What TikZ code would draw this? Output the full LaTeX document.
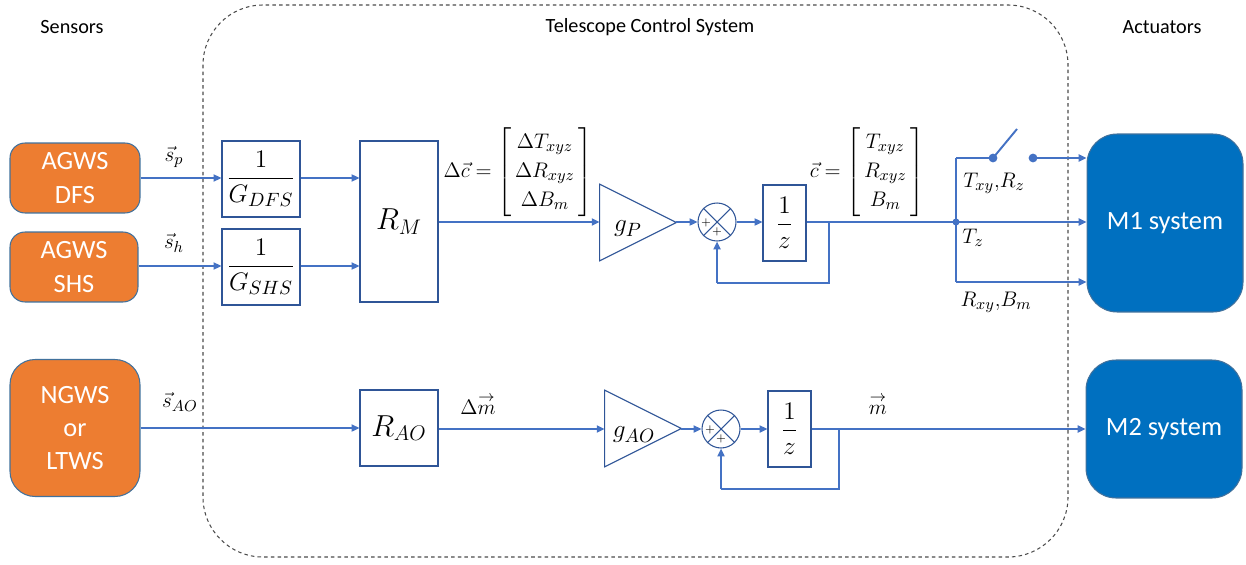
\documentclass[tikz,border=0pt]{standalone}
\usepackage{fontspec}
\setmainfont{Carlito}
\usepackage{amsmath}
\usetikzlibrary{arrows.meta}
\definecolor{orng}{HTML}{ED7D31}
\definecolor{slate}{HTML}{41719C}
\definecolor{mblue}{HTML}{0070C0}
\definecolor{lblue}{HTML}{4472C4}
\definecolor{bbord}{HTML}{2F5597}
\newcommand{\vecm}{\overset{\scriptstyle\rightarrow}{m}}
\begin{document}
\begin{tikzpicture}[x=0.02cm,y=-0.02cm,
  sensor/.style={draw=slate, line width=0.6pt, fill=orng, text=white, rounded corners=0.3cm,
    font=\fontsize{15}{19}\selectfont, align=center, inner sep=0pt},
  actuator/.style={draw=slate, line width=0.6pt, fill=mblue, text=white, rounded corners=0.6cm,
    font=\fontsize{15}{19}\selectfont, align=center, inner sep=0pt},
  blockbox/.style={draw=bbord, line width=0.6pt, fill=white, inner sep=0pt,
    font=\fontsize{15}{18}\selectfont},
  gainarea/.style={inner sep=0pt, minimum width=1.52cm, minimum height=1.52cm},
  sumnode/.style={draw=bbord, line width=0.6pt, circle, minimum size=0.76cm, inner sep=0pt},
  sig/.style={draw=lblue, line width=1.1pt, -{Triangle[length=4.5pt,width=4pt]}},
  wire/.style={draw=lblue, line width=1.1pt},
  head/.style={font=\fontsize{11.5}{14}\selectfont},
  lbl/.style={font=\fontsize{13}{16}\selectfont, inner sep=0pt},
  glbl/.style={font=\fontsize{15}{18}\selectfont, inner sep=0pt},
  matlbl/.style={font=\fontsize{12.5}{16.5}\selectfont, inner sep=0pt},
  plus/.style={font=\fontsize{6}{7}\selectfont, inner sep=0pt},
  dot/.style={circle, fill=lblue, minimum size=5pt, inner sep=0pt}
]
\useasboundingbox (0,0) rectangle (1246,564);

% headers
\node[head] (hs) at (72,27) {Sensors};
\node[head] (ht) at (650,27) {Telescope Control System};
\node[head] (ha) at (1162,27) {Actuators};

% dashed system boundary
\draw[dashed, dash pattern=on 2pt off 1.8pt, draw=black!70, line width=0.6pt, rounded corners=1.2cm]
  (203,5) rectangle (1068,557);

% sensors
\node[sensor, minimum width=2.6cm, minimum height=1.4cm] (dfs) at (75,178) {AGWS\\DFS};
\node[sensor, minimum width=2.56cm, minimum height=1.4cm] (shs) at (74,267) {AGWS\\SHS};
\node[sensor, rounded corners=0.5cm, minimum width=2.6cm, minimum height=2.74cm] (ngws) at (75,428) {NGWS\\or\\LTWS};

% actuators
\node[actuator, minimum width=3.12cm, minimum height=3.56cm] (m1) at (1165,223) {M1 system};
\node[actuator, minimum width=3.12cm, minimum height=2.76cm] (m2) at (1164,429) {M2 system};

% top chain
\node[blockbox, minimum width=1.56cm, minimum height=1.52cm] (gdfs) at (261,179) {$\displaystyle\frac{1}{G_{DFS}}$};
\node[blockbox, minimum width=1.56cm, minimum height=1.52cm] (gshs) at (261,267) {$\displaystyle\frac{1}{G_{SHS}}$};
\node[blockbox, font=\fontsize{18}{21}\selectfont, minimum width=1.56cm, minimum height=3.22cm] (rm) at (399,221.5) {$R_M$};

\node[gainarea] (gp) at (638,222.5) {};
\draw[draw=bbord, line width=0.6pt] (gp.north west) -- (gp.east) -- (gp.south west) -- cycle;
\node[glbl] (gpl) at (628,229) {$g_P$};

\node[sumnode] (s1) at (717,222) {};
\draw[draw=bbord, line width=0.6pt] (s1.north west) -- (s1.south east) (s1.north east) -- (s1.south west);
\node[plus] (s1a) at (706,223) {$+$};
\node[plus] (s1b) at (717,232) {$+$};

\node[blockbox, minimum width=0.86cm, minimum height=1.52cm] (z1) at (784.5,223) {$\displaystyle\frac{1}{z}$};

\coordinate (j1) at (829,222);
\coordinate (j1b) at (829,283);
\coordinate (s1b0) at (717,283);
\node[dot, minimum size=4pt] (jr) at (956,222) {};
\coordinate (jt) at (956,158);
\coordinate (jb) at (956,282);
\node[dot] (sw1) at (993,158) {};
\coordinate (swend) at (1017,129);
\node[dot] (sw2) at (1033,158) {};

\draw[sig] (dfs.east |- 0,178) -- (gdfs.west |- 0,178);
\draw[sig] (shs.east |- 0,266) -- (gshs.west |- 0,266);
\draw[sig] (gdfs.east |- 0,178) -- (rm.west |- 0,178);
\draw[sig] (gshs.east |- 0,266) -- (rm.west |- 0,266);
\draw[sig] (rm.east |- 0,222) -- (gp.west |- 0,222);
\draw[sig] (gp.east |- 0,222) -- (s1.west);
\draw[sig] (s1.east) -- (z1.west |- 0,222);
\draw[wire] (z1.east |- 0,222) -- (jr.center);
\draw[wire] (j1) -- (j1b) -- (s1b0);
\draw[sig] (s1b0) -- (s1.south);
\draw[wire] (jt) -- (jb);
\draw[wire] (jt) -- (sw1.center) -- (swend);
\draw[sig] (sw2.center) -- (m1.west |- 0,158);
\draw[sig] (jr.center) -- (m1.west |- 0,222);
\draw[sig] (jb) -- (m1.west |- 0,282);

% top labels
\node[lbl] (lsp) at (174,157) {$\vec{s}_p$};
\node[lbl] (lsh) at (174,243) {$\vec{s}_h$};
\node[matlbl] (ldc) at (518,172)
  {$\Delta\vec{c} = \begin{bmatrix}\,\Delta T_{xyz}\,\\ \,\Delta R_{xyz}\,\\ \,\Delta B_m\,\end{bmatrix}$};
\node[matlbl] (lc) at (867,172)
  {$\vec{c} = \begin{bmatrix}\,T_{xyz}\,\\ \,R_{xyz}\,\\ \,B_m\,\end{bmatrix}$};
\node[lbl] (ltr) at (994,183) {$T_{xy}{,}R_z$};
\node[lbl] (ltz) at (973,238) {$T_z$};
\node[lbl] (lrb) at (996,302) {$R_{xy}{,}B_m$};

% bottom chain
\node[blockbox, font=\fontsize{18}{21}\selectfont, minimum width=1.56cm, minimum height=1.52cm] (rao) at (399,428) {$R_{AO}$};
\node[gainarea] (gao) at (643,428.5) {};
\draw[draw=bbord, line width=0.6pt] (gao.north west) -- (gao.east) -- (gao.south west) -- cycle;
\node[glbl] (gaol) at (634,435) {$g_{AO}$};

\node[sumnode] (s2) at (721,429) {};
\draw[draw=bbord, line width=0.6pt] (s2.north west) -- (s2.south east) (s2.north east) -- (s2.south west);
\node[plus] (s2a) at (710,430) {$+$};
\node[plus] (s2b) at (721,439) {$+$};

\node[blockbox, minimum width=0.86cm, minimum height=1.52cm] (z2) at (789.5,429) {$\displaystyle\frac{1}{z}$};
\coordinate (j2) at (839,429);
\coordinate (j2b) at (839,489);
\coordinate (s2b0) at (721,489);

\draw[sig] (ngws.east |- 0,428) -- (rao.west |- 0,428);
\draw[sig] (rao.east |- 0,429) -- (gao.west |- 0,429);
\draw[sig] (gao.east |- 0,429) -- (s2.west);
\draw[sig] (s2.east) -- (z2.west |- 0,429);
\draw[sig] (z2.east |- 0,429) -- (m2.west |- 0,429);
\draw[wire] (j2) -- (j2b) -- (s2b0);
\draw[sig] (s2b0) -- (s2.south);

\node[lbl] (lsao) at (180,402) {$\vec{s}_{AO}$};
\node[lbl] (ldm) at (478,404) {$\Delta\vecm$};
\node[lbl] (lm) at (878,404) {$\vecm$};
\end{tikzpicture}
\end{document}
